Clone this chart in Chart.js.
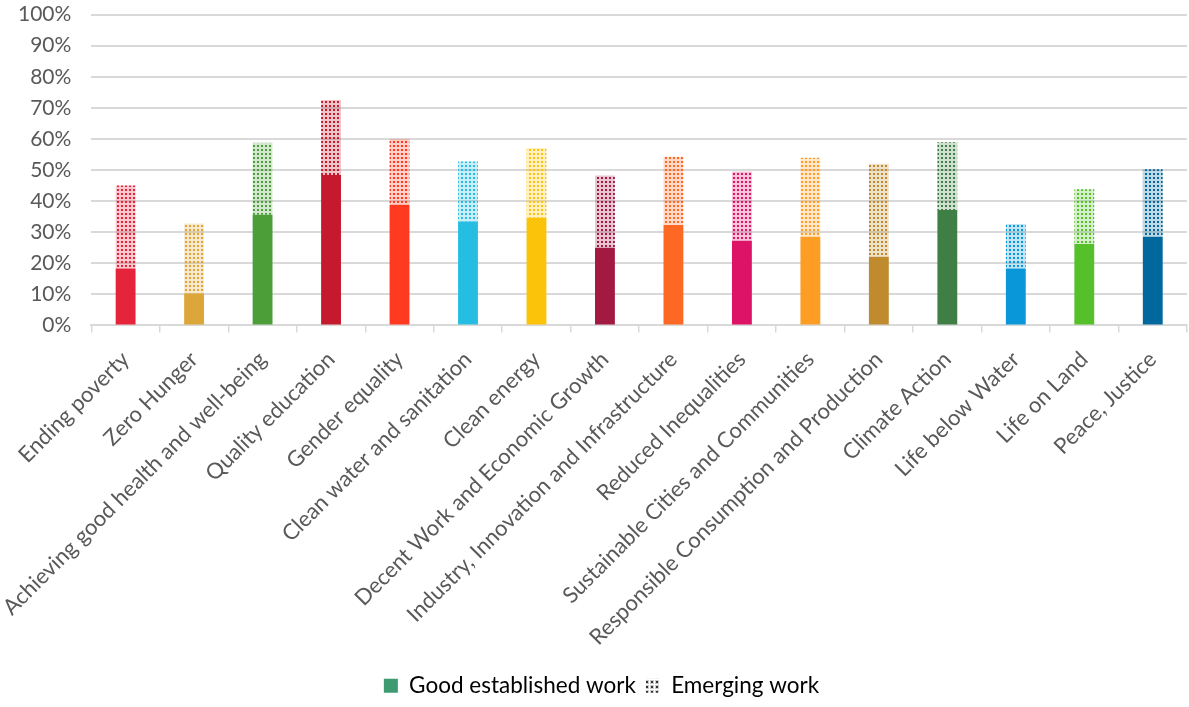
<!DOCTYPE html>
<html>
<head>
<meta charset="utf-8">
<style>
  body { margin: 0; background: #fff; }
  #wrap { width: 1189px; height: 707px; }
</style>
</head>
<body>
<div id="wrap"><canvas id="sdgChart"></canvas></div>

<script src="https://cdn.jsdelivr.net/npm/chart.js"></script>
<script>
    const goals = ['Ending poverty', 'Zero Hunger', 'Achieving good health and well-being', 'Quality education',
        'Gender equality', 'Clean water and sanitation', 'Clean energy', 'Decent Work and Economic Growth',
        'Industry, Innovation and Infrastructure', 'Reduced Inequalities', 'Sustainable Cities and Communities',
        'Responsible Consumption and Production', 'Climate Action', 'Life below Water', 'Life on Land', 'Peace, Justice'];

    // percent of respondents
    const established = [18.3, 10.3, 35.6, 48.4, 38.8, 33.4, 34.6, 25.0, 32.3, 27.2, 28.5, 22.1, 37.1, 18.3, 26.2, 28.5];
    const emerging = [26.7, 22.5, 23.2, 24.1, 21.2, 19.3, 22.5, 23.2, 22.0, 22.3, 25.4, 29.9, 21.8, 14.3, 17.6, 21.7];

    const yTicks = [0, 10, 20, 30, 40, 50, 60, 70, 80, 90, 100];

    const goalColours = ['#E5243B', '#DDA63A', '#4C9F38', '#C5192D', '#FF3A21', '#26BDE2', '#FCC30B', '#A21942',
        '#FD6925', '#DD1367', '#FD9D24', '#BF8B2E', '#3F7E44', '#0A97D9', '#56C02B', '#00689D'];

    // small dotted tile for the "emerging" part of each bar
    function dots(colour, size) {
        const c = document.createElement('canvas');
        c.width = size;
        c.height = size;
        const g = c.getContext('2d');
        g.fillStyle = colour;
        g.globalAlpha = 0.25;
        g.fillRect(0, 0, 4, 4);
        g.globalAlpha = 1;
        g.fillRect(1, 1, 2, 2);
        return g.createPattern(c, 'repeat');
    }

    const dotPatterns = goalColours.map(c => dots(c, 4));
    const legendDots = dots('#333333', 5);

    const ctx = document.getElementById('sdgChart');

    new Chart(ctx, {
        type: 'bar',
        data: {
            labels: goals,
            datasets: [{
                label: 'Good established work',
                data: established,
                backgroundColor: goalColours,
                borderWidth: 0
            }, {
                label: 'Emerging work',
                data: emerging,
                backgroundColor: dotPatterns,
                borderWidth: 0
            }]
        },
        options: {
            responsive: true,
            maintainAspectRatio: false,
            animation: false,
            layout: { padding: { top: 0, right: 2, left: 16, bottom: 0 } },
            datasets: {
                bar: { categoryPercentage: 1, barPercentage: 0.29 }
            },
            scales: {
                x: {
                    stacked: true,
                    grid: {
                        offset: true,
                        drawOnChartArea: false,
                        drawTicks: true,
                        tickLength: 7,
                        color: '#d9d9d9',
                        lineWidth: 1.5
                    },
                    border: { color: '#d9d9d9', width: 2 },
                    ticks: {
                        autoSkip: false,
                        maxRotation: 45,
                        minRotation: 45,
                        padding: 14,
                        color: '#595959',
                        font: { family: 'Lato', size: 22 }
                    }
                },
                y: {
                    stacked: true,
                    min: 0,
                    max: 100,
                    afterBuildTicks: axis => {
                        axis.ticks = yTicks.map(v => ({ value: v }));
                    },
                    grid: { color: '#d9d9d9', lineWidth: 2, drawTicks: true, tickLength: 18, tickColor: 'rgba(0,0,0,0)' },
                    border: { display: false },
                    ticks: {
                        padding: 2,
                        color: '#595959',
                        font: { family: 'Lato', size: 21 },
                        callback: v => v + '%'
                    }
                }
            },
            plugins: {
                tooltip: { enabled: false },
                legend: {
                    position: 'bottom',
                    labels: {
                        color: '#595959',
                        font: { family: 'Lato', size: 22.5 },
                        boxWidth: 14,
                        boxHeight: 14,
                        padding: 10,
                        generateLabels: () => [
                            { text: 'Good established work', fillStyle: '#3E9A70', strokeStyle: '#3E9A70', lineWidth: 0, datasetIndex: 0 },
                            { text: 'Emerging work', fillStyle: legendDots, strokeStyle: 'rgba(0,0,0,0)', lineWidth: 0, datasetIndex: 1 }
                        ]
                    }
                }
            }
        }
    });
</script>
</body>
</html>
